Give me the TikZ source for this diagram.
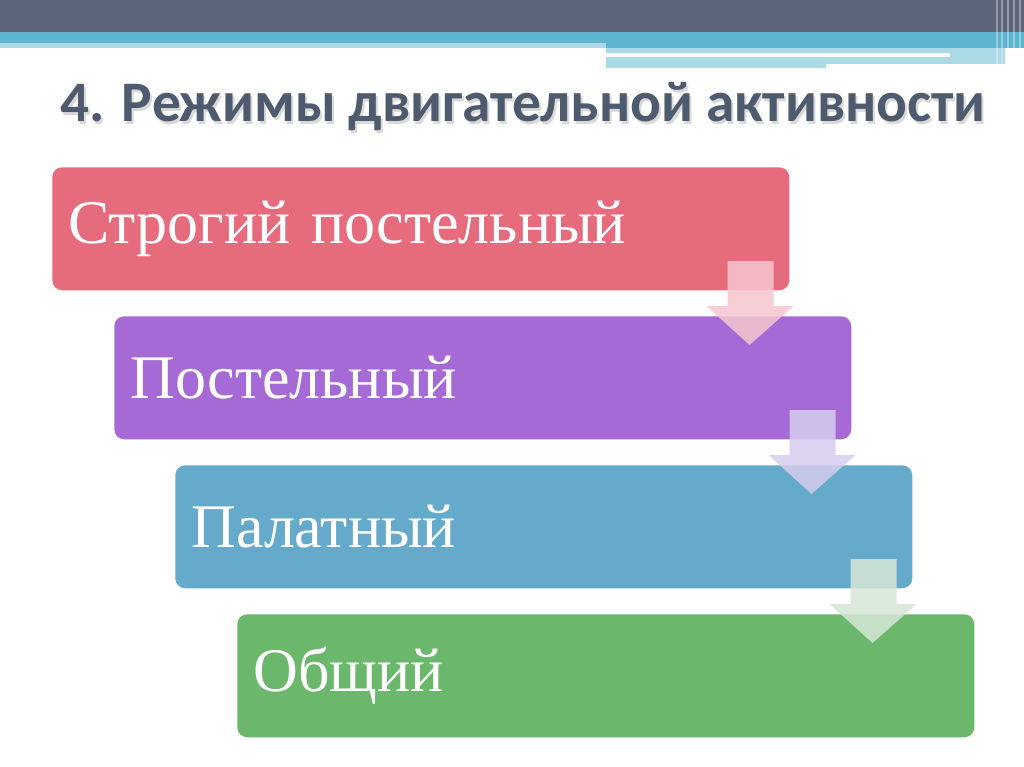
\documentclass[tikz,border=0pt]{standalone}
\usepackage{fontspec}
\setmainfont{Liberation Serif}
\newfontfamily\titlefont{Carlito}
\usetikzlibrary{calc}
\definecolor{hdrdark}{HTML}{5C6479}
\definecolor{hdrteal}{HTML}{5EB5CE}
\definecolor{hdrlight}{HTML}{ABD9E5}
\definecolor{titlecol}{HTML}{4E5A6E}
\definecolor{boxred}{HTML}{E66C7D}
\definecolor{boxpurple}{HTML}{A66AD7}
\definecolor{boxblue}{HTML}{66AACB}
\definecolor{boxgreen}{HTML}{6BB86C}
\definecolor{arrpink}{HTML}{F6C6CE}
\definecolor{arrlav}{HTML}{D6CDEE}
\definecolor{arrgreen}{HTML}{D6E7D7}
\tikzset{
  stagebox/.style={draw=none, rounded corners=7.5pt, anchor=north west,
    minimum width=552.75pt, minimum height=92.25pt, inner xsep=12pt,
    text width=528.75pt, align=left, text=white,
    font=\fontsize{46.5}{54}\selectfont},
  downarrow/.style={fill opacity=0.85, draw=none},
  titletext/.style={anchor=base, font=\titlefont\bfseries\fontsize{43}{50}\selectfont},
}
\begin{document}
\begin{tikzpicture}[x=0.75pt,y=-0.75pt]
\useasboundingbox (0,0) rectangle (1024,767);
\fill[white] (0,0) rectangle (1024,767);
% header
\fill[hdrdark] (0,0) rectangle (1024,32);
\fill[hdrteal] (0,32) rectangle (1024,43);
\fill[hdrteal] (606,43) rectangle (1024,48);
\fill[hdrlight] (0,43) rectangle (606,48);
\fill[hdrlight] (606,48) rectangle (950,53);
\fill[hdrlight] (950,48) rectangle (1005,63);
\fill[hdrlight] (606,57) rectangle (1005,64);
\fill[hdrlight] (606,64) rectangle (826,68);
\foreach \xx in {997,1002,1008,1014,1020}
  \draw[white, opacity=0.35, line width=0.8pt] (\xx,0) -- (\xx,66);
% title
\node[titletext, text=gray!30] (titleshadow) at (525,124) {4. Режимы двигательной активности};
\node[titletext, text=titlecol] (title) at (523,122) {4. Режимы двигательной активности};
% boxes
\node[stagebox, fill=boxred] (b1) at (52,167) {Строгий постельный};
\node[stagebox, fill=boxpurple] (b2) at (114,316) {Постельный};
\node[stagebox, fill=boxblue] (b3) at (175,465) {Палатный};
\node[stagebox, fill=boxgreen] (b4) at (237,614) {Общий};
% arrows
\foreach \b/\c in {b1/arrpink, b2/arrlav, b3/arrgreen}{
  \fill[downarrow, fill=\c]
    ($(\b.north east)+(-62,94)$) -- ($(\b.north east)+(-16,94)$) --
    ($(\b.north east)+(-16,139)$) -- ($(\b.north east)+(4,139)$) --
    ($(\b.north east)+(-40,178)$) -- ($(\b.north east)+(-83,139)$) --
    ($(\b.north east)+(-62,139)$) -- cycle;
}
\end{tikzpicture}
\end{document}
